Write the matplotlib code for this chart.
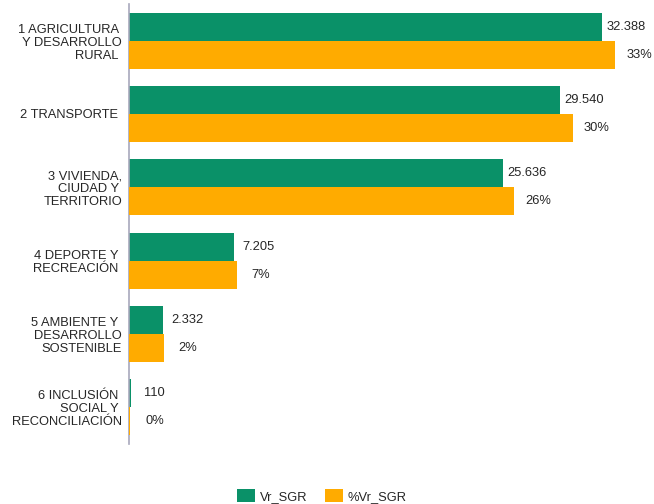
import matplotlib.pyplot as plt

plt.rcParams['font.family'] = ['Liberation Sans', 'DejaVu Sans']

categories = ["1 AGRICULTURA \nY DESARROLLO\nRURAL ",
              "2 TRANSPORTE ",
              "3 VIVIENDA,\nCIUDAD Y \nTERRITORIO",
              "4 DEPORTE Y \nRECREACIÓN ",
              "5 AMBIENTE Y \nDESARROLLO\nSOSTENIBLE",
              "6 INCLUSIÓN \nSOCIAL Y \nRECONCILIACIÓN"]
vr_sgr = [32388, 29540, 25636, 7205, 2332, 110]
pct_vr_sgr = [33.3, 30.4, 26.4, 7.4, 2.4, 0.1]

green = '#0a9168'
orange = '#ffab00'
txt = '#262626'
fs = 9.3

fig = plt.figure(figsize=(6.54, 5.04), dpi=100)
ax = fig.add_axes([129 / 654, 1 - 444 / 504, 511 / 654, 440 / 504])
ax2 = ax.twiny()

y = list(range(len(categories)))
h = 0.384
g_bars = ax.barh([i - h / 2 for i in y], vr_sgr, height=h, color=green, label='Vr_SGR')
o_bars = ax2.barh([i + h / 2 for i in y], pct_vr_sgr, height=h, color=orange, label='%Vr_SGR')

ax.set_xlim(0, 35000)
ax2.set_xlim(0, 35)
ax.set_ylim(len(categories) - 0.5, -0.5)

for b, v in zip(g_bars, vr_sgr):
    ax.annotate(f"{v:,}".replace(',', '.'), (b.get_width(), b.get_y() + b.get_height() / 2),
                xytext=(24, 0), textcoords='offset pixels', ha='center', va='center',
                fontsize=fs, color=txt)
for b, v in zip(o_bars, pct_vr_sgr):
    ax2.annotate(f"{v:.0f}%", (b.get_width(), b.get_y() + b.get_height() / 2),
                 xytext=(24, 0), textcoords='offset pixels', ha='center', va='center',
                 fontsize=fs, color=txt)

ax.set_yticks(y)
ax.set_yticklabels(categories, fontsize=fs, color=txt, linespacing=1.1, ha='right')
ax.tick_params(axis='y', length=0, pad=5)
ax.tick_params(axis='x', bottom=False, labelbottom=False)
ax2.tick_params(axis='x', top=False, labeltop=False)

for a in (ax, ax2):
    for s in ('top', 'right', 'bottom'):
        a.spines[s].set_visible(False)
ax2.spines['left'].set_visible(False)
ax.spines['left'].set_color('#a8a8bc')
ax.spines['left'].set_linewidth(1.2)

handles = [g_bars, o_bars]
fig.legend(handles, ['Vr_SGR', '%Vr_SGR'], loc='center', bbox_to_anchor=(322 / 654, 1 - 496 / 504),
           ncol=2, frameon=False, fontsize=fs, handlelength=1.35, handleheight=1.1,
           handletextpad=0.4, columnspacing=1.4, labelcolor=txt)

fig.savefig('out.png', dpi=100)
